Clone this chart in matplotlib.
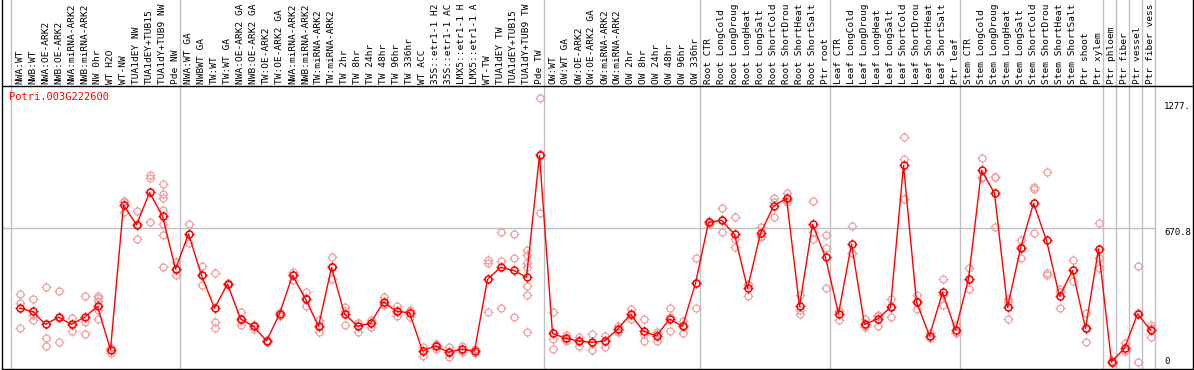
import matplotlib
matplotlib.use("Agg")
import matplotlib.pyplot as plt
import numpy as np
from matplotlib.path import Path

gene = "Potri.003G222600"

samples = [
    "NWA:WT", "NWB:WT", "NWA:OE-ARK2", "NWB:OE-ARK2", "NWA:miRNA-ARK2", "NWB:miRNA-ARK2",
    "NW 0hr", "WT H2O", "WT-NW", "TUA1dEY NW", "TUA1dEY+TUB15", "TUA1dY+TUB9 NW", "Pde NW",
    "NWA:WT GA", "NWBWT GA", "TW:WT", "TW:WT GA", "NWA:OE-ARK2 GA", "NWB:OE-ARK2 GA",
    "TW:OE-ARK2", "TW:OE-ARK2 GA", "NWA:miRNA-ARK2", "NWB:miRNA-ARK2", "TW:miRNA-ARK2",
    "TW:miRNA-ARK2", "TW 2hr", "TW 8hr", "TW 24hr", "TW 48hr", "TW 96hr", "TW 336hr",
    "WT ACC", "35S::etr1-1 H2", "35S::etr1-1 AC", "LMX5::etr1-1 H", "LMX5::etr1-1 A",
    "WT-TW", "TUA1dEY TW", "TUA1dEY+TUB15", "TUA1dY+TUB9 TW", "Pde TW",
    "OW:WT", "OW:WT GA", "OW:OE-ARK2", "OW:OE-ARK2 GA", "OW:miRNA-ARK2", "OW:miRNA-ARK2",
    "OW 2hr", "OW 8hr", "OW 24hr", "OW 48hr", "OW 96hr", "OW 336hr",
    "Root CTR", "Root LongCold", "Root LongDroug", "Root LongHeat", "Root LongSalt",
    "Root ShortCold", "Root ShortDrou", "Root ShortHeat", "Root ShortSalt", "Ptr root",
    "Leaf CTR", "Leaf LongCold", "Leaf LongDroug", "Leaf LongHeat", "Leaf LongSalt",
    "Leaf ShortCold", "Leaf ShortDrou", "Leaf ShortHeat", "Leaf ShortSalt", "Ptr leaf",
    "Stem CTR", "Stem LongCold", "Stem LongDroug", "Stem LongHeat", "Stem LongSalt",
    "Stem ShortCold", "Stem ShortDrou", "Stem ShortHeat", "Stem ShortSalt", "Ptr shoot",
    "Ptr xylem", "Ptr phloem", "Ptr fiber", "Ptr vessel", "Ptr fiber vess",
]

# index of the first sample of each group (last entry closes the final group)
group_starts = [0, 13, 41, 53, 63, 73, 84, 85, 86, 87, 88]

means = [
    290, 275, 213, 247, 213, 247, 299, 92, 783, 688, 843, 730, 477,
    645, 447, 290, 406, 239, 204, 134, 263, 447, 334, 204, 485, 263, 205, 218,
    320, 275, 269, 86, 110, 80, 94, 86, 428, 485, 471, 438, 1020,
    170, 147, 134, 127, 134, 189, 261, 180, 158, 239, 204, 409,
    700, 710, 643, 385, 648, 777, 815, 299, 692, 533,
    264, 597, 213, 239, 294, 972, 320, 158, 366, 186,
    430, 949, 839, 294, 576, 791, 614, 347, 471, 194, 573,
    34, 99, 263, 186,
]

replicates = [
    [358, 317, 196], [333, 258, 234], [390, 146, 108], [372, 242, 127],
    [244, 212, 183], [347, 226, 166], [350, 337, 325, 282, 240], [101, 100, 75],
    [802, 799, 748], [753, 692, 619], [928, 910, 700],
    [882, 835, 815, 759, 691, 640, 485], [511, 473, 447],
    [691, 644, 600], [492, 450, 399], [458, 223, 194], [410, 406, 402],
    [272, 236, 209], [210, 209, 193], [138, 134, 130], [271, 263, 255],
    [465, 451, 425], [366, 337, 299], [234, 200, 178], [533, 492, 430],
    [294, 279, 209], [219, 218, 178], [234, 218, 202], [345, 309, 306],
    [301, 271, 253], [282, 278, 247], [107, 87, 64], [118, 115, 97],
    [103, 78, 59], [108, 91, 83], [97, 86, 75], [520, 505, 271],
    [653, 514, 290], [643, 528, 247], [568, 546, 505, 489, 395, 355, 175],
    [1292, 1025, 743],
    [271, 142, 94], [162, 144, 135], [154, 137, 111], [166, 126, 89],
    [159, 140, 103], [207, 185, 175], [286, 260, 237], [240, 168, 132],
    [175, 167, 132], [290, 247, 180], [231, 211, 170], [528, 409, 290],
    [706, 700, 694], [767, 710, 653], [726, 619, 581], [404, 402, 349],
    [678, 637, 629], [815, 799, 724], [842, 807, 796], [355, 282, 261],
    [801, 653, 622], [640, 576, 385],
    [279, 279, 234], [683, 556, 552], [237, 203, 199], [258, 254, 205],
    [333, 299, 250], [1108, 1003, 813], [352, 323, 285], [170, 158, 146],
    [428, 353, 306], [210, 178, 170],
    [481, 429, 380], [1006, 918, 910], [918, 915, 676], [333, 321, 239],
    [616, 582, 530], [870, 859, 648], [940, 457, 447], [380, 366, 290],
    [520, 473, 420], [266, 189, 127], [695, 528, 484],
    [43, 32, 27], [123, 89, 85], [492, 265, 32], [210, 194, 154],
]

axis_labels = ["1277.", "670.8", "0"]
axis_values = [1277, 670.8, 0]

# pixel geometry of the original picture
W, H = 1194, 370
px0, step = 19.5, 13.0      # centre of the first column and column pitch
units_per_px = 4.774
header_px = 86
bottom_px = 369

fig = plt.figure(figsize=(W / 100, H / 100), dpi=100)
ax = fig.add_axes([2 / W, (H - bottom_px) / H, (1193 - 2) / W, bottom_px / H])
ax.set_xlim((2 - px0) / step, (1193 - px0) / step)
ax.set_ylim(0, bottom_px * units_per_px)
ax.set_xticks([])
ax.set_yticks([])
for side in ["left", "right", "bottom"]:
    ax.spines[side].set_linewidth(1.0)
    ax.spines[side].set_color("black")
ax.spines["top"].set_visible(False)

header_y = (bottom_px - header_px) * units_per_px
ax.axhline(header_y, color="black", lw=1.0)

# group separators
sep_off = 8.5 / step
for s in group_starts:
    ax.axvline(s - sep_off, color="#c0c0c0", lw=1.0, zorder=1)
ax.hlines(670.8, ax.get_xlim()[0], group_starts[-1] - sep_off, color="#c0c0c0", lw=1.0, zorder=1)

# four little ticks around the circle markers
tv, tc = [], []
for a, b in [((0, 1), (0, 1.5)), ((0, -1), (0, -1.5)), ((1, 0), (1.5, 0)), ((-1, 0), (-1.5, 0))]:
    tv += [a, b]
    tc += [Path.MOVETO, Path.LINETO]
ticks = Path(tv, tc)

x = np.arange(len(samples))
rx = np.concatenate([[i] * len(r) for i, r in enumerate(replicates)])
ry = np.concatenate(replicates)
pink = "#f0a0a0"
ax.plot(rx, ry, ls="none", marker="o", ms=5.0, mfc="none", mec=pink, mew=0.9, zorder=2)
ax.plot(rx, ry, ls="none", marker=ticks, ms=7.5, mec=pink, mew=0.9, zorder=2)
ax.plot(x, means, color="#ff0000", lw=1.0, zorder=3)
ax.plot(x, means, ls="none", marker="o", ms=5.0, mfc="none", mec="#ff0000", mew=1.1, zorder=4)
ax.plot(x, means, ls="none", marker=ticks, ms=7.5, mec="#ff0000", mew=1.0, zorder=4)

mono = "DejaVu Sans Mono"
for i, lab in enumerate(samples):
    ax.text(i, header_y + 2 * units_per_px, lab, rotation=90, ha="center", va="bottom",
            fontfamily=mono, fontsize=6.8, color="black", clip_on=False)

ax.text((9 - px0) / step, (bottom_px - 97) * units_per_px, gene, ha="left", va="center",
        fontfamily=mono, fontsize=7.5, color="#ff0000")

lx = (1164 - px0) / step
for lab, v in zip(axis_labels, axis_values):
    if v == 0:
        ax.text(lx, v + 3 * units_per_px, lab, ha="left", va="bottom", fontfamily=mono, fontsize=6.5)
    else:
        ax.text(lx, v, lab, ha="left", va="top", fontfamily=mono, fontsize=6.5)

fig.savefig("out.png", dpi=100)
